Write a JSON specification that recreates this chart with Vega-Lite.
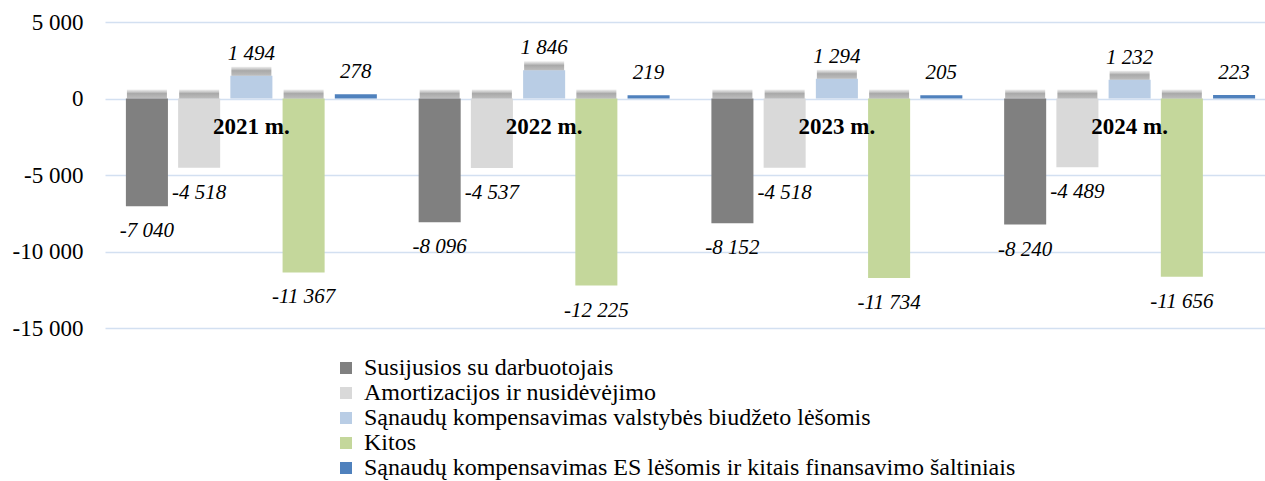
{
  "$schema": "https://vega.github.io/schema/vega-lite/v6.json",
  "width": 1171,
  "height": 306,
  "autosize": {"type": "none"},
  "padding": {"left": 105, "top": 22, "right": 0, "bottom": 153},
  "background": "white",
  "config": {
    "locale": {"number": {"decimal": ",", "thousands": " ", "grouping": [3], "currency": ["", ""], "minus": "-"}},
    "view": {"stroke": null},
    "font": "Times New Roman"
  },
  "datasets": {
    "vals": [
      {"year": "2021", "series": "Susijusios su darbuotojais", "value": -7040},
      {"year": "2021", "series": "Amortizacijos ir nusidėvėjimo", "value": -4518},
      {"year": "2021", "series": "Sąnaudų kompensavimas valstybės biudžeto lėšomis", "value": 1494},
      {"year": "2021", "series": "Kitos", "value": -11367},
      {"year": "2021", "series": "Sąnaudų kompensavimas ES lėšomis ir kitais finansavimo šaltiniais", "value": 278},
      {"year": "2022", "series": "Susijusios su darbuotojais", "value": -8096},
      {"year": "2022", "series": "Amortizacijos ir nusidėvėjimo", "value": -4537},
      {"year": "2022", "series": "Sąnaudų kompensavimas valstybės biudžeto lėšomis", "value": 1846},
      {"year": "2022", "series": "Kitos", "value": -12225},
      {"year": "2022", "series": "Sąnaudų kompensavimas ES lėšomis ir kitais finansavimo šaltiniais", "value": 219},
      {"year": "2023", "series": "Susijusios su darbuotojais", "value": -8152},
      {"year": "2023", "series": "Amortizacijos ir nusidėvėjimo", "value": -4518},
      {"year": "2023", "series": "Sąnaudų kompensavimas valstybės biudžeto lėšomis", "value": 1294},
      {"year": "2023", "series": "Kitos", "value": -11734},
      {"year": "2023", "series": "Sąnaudų kompensavimas ES lėšomis ir kitais finansavimo šaltiniais", "value": 205},
      {"year": "2024", "series": "Susijusios su darbuotojais", "value": -8240},
      {"year": "2024", "series": "Amortizacijos ir nusidėvėjimo", "value": -4489},
      {"year": "2024", "series": "Sąnaudų kompensavimas valstybės biudžeto lėšomis", "value": 1232},
      {"year": "2024", "series": "Kitos", "value": -11656},
      {"year": "2024", "series": "Sąnaudų kompensavimas ES lėšomis ir kitais finansavimo šaltiniais", "value": 223}
    ],
    "years": [
      {"year": "2021", "label": "2021 m."},
      {"year": "2022", "label": "2022 m."},
      {"year": "2023", "label": "2023 m."},
      {"year": "2024", "label": "2024 m."}
    ]
  },
  "data": {"name": "vals"},
  "encoding": {
    "x": {"field": "year", "type": "nominal", "sort": ["2021", "2022", "2023", "2024"],
          "scale": {"paddingInner": 0, "paddingOuter": 0}, "axis": null},
    "xOffset": {"field": "series", "type": "nominal",
      "sort": ["Susijusios su darbuotojais", "Amortizacijos ir nusidėvėjimo", "Sąnaudų kompensavimas valstybės biudžeto lėšomis", "Kitos", "Sąnaudų kompensavimas ES lėšomis ir kitais finansavimo šaltiniais"],
      "scale": {"paddingInner": 0.195, "paddingOuter": 0.4}}
  },
  "layer": [
    {
      "mark": {"type": "bar"},
      "encoding": {
        "y": {"field": "value", "type": "quantitative",
          "scale": {"domain": [-15000, 5000], "nice": false, "zero": false},
          "axis": {"title": null, "values": [-15000, -10000, -5000, 0, 5000], "format": ",d",
            "domain": false, "ticks": false, "labelPadding": 22, "labelFontSize": 23,
            "labelColor": "#000000", "labelFont": "Times New Roman",
            "gridColor": "#D3E0F1", "gridWidth": 1.5}},
        "color": {"field": "series", "type": "nominal",
          "scale": {
            "domain": ["Susijusios su darbuotojais", "Amortizacijos ir nusidėvėjimo", "Sąnaudų kompensavimas valstybės biudžeto lėšomis", "Kitos", "Sąnaudų kompensavimas ES lėšomis ir kitais finansavimo šaltiniais"],
            "range": ["#808080", "#D9D9D9", "#B9CDE5", "#C4D79B", "#4F81BD"]},
          "legend": {"title": null, "orient": "none", "legendX": 229, "legendY": 334, "direction": "vertical",
            "padding": 0, "symbolType": "square", "symbolSize": 144, "symbolStrokeWidth": 0,
            "labelFontSize": 24, "labelFont": "Times New Roman", "labelColor": "#000000",
            "labelLimit": 1000, "rowPadding": 1, "labelOffset": 6}}
      }
    },
    {
      "transform": [{"filter": "datum.value < 0"}],
      "mark": {"type": "tick", "orient": "horizontal", "size": 40, "thickness": 9, "yOffset": -4.5,
        "color": {"gradient": "linear", "x1": 0, "y1": 0, "x2": 0, "y2": 1,
          "stops": [{"offset": 0, "color": "rgba(140,140,140,0.2)"}, {"offset": 0.45, "color": "rgba(110,110,110,0.85)"}, {"offset": 1, "color": "rgba(120,120,120,0.7)"}]}},
      "encoding": {"y": {"datum": 0}}
    },
    {
      "transform": [{"filter": "datum.value > 1000"}],
      "mark": {"type": "tick", "orient": "horizontal", "size": 40, "thickness": 9, "yOffset": -4.5,
        "color": {"gradient": "linear", "x1": 0, "y1": 0, "x2": 0, "y2": 1,
          "stops": [{"offset": 0, "color": "rgba(140,140,140,0.2)"}, {"offset": 0.45, "color": "rgba(110,110,110,0.85)"}, {"offset": 1, "color": "rgba(120,120,120,0.7)"}]}},
      "encoding": {"y": {"field": "value", "type": "quantitative"}}
    },
    {
      "transform": [{"filter": "datum.value < 0"}],
      "mark": {"type": "text", "dy": 25, "baseline": "middle", "align": "center", "fontStyle": "italic", "fontSize": 21, "font": "Times New Roman", "color": "#000000"},
      "encoding": {
        "y": {"field": "value", "type": "quantitative"},
        "text": {"field": "value", "type": "quantitative", "format": ",d"}
      }
    },
    {
      "transform": [{"filter": "datum.value > 0"}],
      "mark": {"type": "text", "dy": -22, "baseline": "middle", "align": "center", "fontStyle": "italic", "fontSize": 21, "font": "Times New Roman", "color": "#000000"},
      "encoding": {
        "y": {"field": "value", "type": "quantitative"},
        "text": {"field": "value", "type": "quantitative", "format": ",d"}
      }
    },
    {
      "data": {"name": "years"},
      "mark": {"type": "text", "baseline": "middle", "align": "center", "fontWeight": "bold", "fontSize": 23, "font": "Times New Roman", "color": "#000000"},
      "encoding": {
        "x": {"field": "year", "type": "nominal", "sort": ["2021", "2022", "2023", "2024"], "bandPosition": 0.5},
        "xOffset": null,
        "y": {"datum": -1870},
        "text": {"field": "label"}
      }
    }
  ]
}
